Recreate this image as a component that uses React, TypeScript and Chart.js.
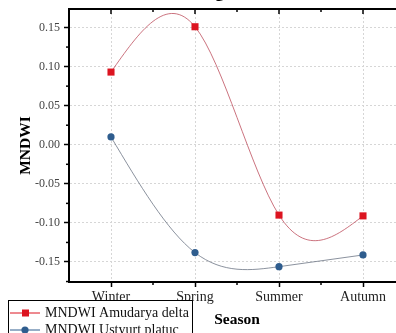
import React, { useEffect, useRef } from "react";
import { Chart, registerables } from "chart.js";

Chart.register(...registerables);

// Seasonal MNDWI means for the two study areas
const seasons = ["Winter", "Spring", "Summer", "Autumn"];
const amudaryaDelta = [0.093, 0.151, -0.09, -0.091];
const ustyurtPlateau = [0.01, -0.138, -0.156, -0.141];
const yTickValues = [-0.15, -0.1, -0.05, 0, 0.05, 0.1, 0.15];
const yMinorValues = [-0.175, -0.125, -0.075, -0.025, 0.025, 0.075, 0.125];
const seriesLabels = ["MNDWI Amudarya delta", "MNDWI Ustyurt platuc"];

const SERIF = "'Liberation Serif', 'Times New Roman', serif";
const RED = "#dc1420";
const BLUE = "#2f5d8e";

// Connects each dataset's points with a natural cubic spline (pixel space),
// drawn underneath the point markers.
const splinePlugin = {
  id: "naturalSpline",
  beforeDatasetsDraw(chart: any) {
    const { ctx, chartArea: a } = chart;
    chart.data.datasets.forEach((ds: any, di: number) => {
      const meta = chart.getDatasetMeta(di);
      if (meta.hidden) return;
      const P = meta.data.map((el: any) => ({ x: el.x, y: el.y }));
      const n = P.length;
      if (n < 2) return;
      const h: number[] = [];
      for (let i = 0; i < n - 1; i++) h.push(P[i + 1].x - P[i].x);
      // solve for second derivatives (natural end conditions)
      const M = new Array(n).fill(0);
      if (n > 2) {
        const m = n - 2;
        const sub: number[] = [], diag: number[] = [], sup: number[] = [], rhs: number[] = [];
        for (let i = 1; i <= m; i++) {
          sub.push(h[i - 1]);
          diag.push(2 * (h[i - 1] + h[i]));
          sup.push(h[i]);
          rhs.push(6 * ((P[i + 1].y - P[i].y) / h[i] - (P[i].y - P[i - 1].y) / h[i - 1]));
        }
        for (let i = 1; i < m; i++) {
          const w = sub[i] / diag[i - 1];
          diag[i] -= w * sup[i - 1];
          rhs[i] -= w * rhs[i - 1];
        }
        const sol = new Array(m).fill(0);
        sol[m - 1] = rhs[m - 1] / diag[m - 1];
        for (let i = m - 2; i >= 0; i--) sol[i] = (rhs[i] - sup[i] * sol[i + 1]) / diag[i];
        for (let i = 0; i < m; i++) M[i + 1] = sol[i];
      }
      ctx.save();
      ctx.beginPath();
      ctx.rect(a.left, a.top, a.right - a.left, a.bottom - a.top);
      ctx.clip();
      ctx.strokeStyle = ds.borderColor;
      ctx.lineWidth = ds.borderWidth;
      ctx.beginPath();
      ctx.moveTo(P[0].x, P[0].y);
      for (let i = 0; i < n - 1; i++) {
        const hi = h[i];
        const s = (P[i + 1].y - P[i].y) / hi;
        const d0 = s - (hi * (2 * M[i] + M[i + 1])) / 6;
        const d1 = s + (hi * (M[i] + 2 * M[i + 1])) / 6;
        ctx.bezierCurveTo(
          P[i].x + hi / 3, P[i].y + (d0 * hi) / 3,
          P[i + 1].x - hi / 3, P[i + 1].y - (d1 * hi) / 3,
          P[i + 1].x, P[i + 1].y
        );
      }
      ctx.stroke();
      ctx.restore();
    });
  },
};

// Axis frame (top edge, minor ticks) and the boxed legend in the lower-left
const framePlugin = {
  id: "frame",
  afterDraw(chart: any) {
    const { ctx, chartArea: a, scales } = chart;
    const xs = scales.x;
    const ys = scales.y;
    const seg = (x1: number, y1: number, x2: number, y2: number) => {
      ctx.beginPath();
      ctx.moveTo(x1, y1);
      ctx.lineTo(x2, y2);
      ctx.stroke();
    };
    ctx.save();
    ctx.strokeStyle = "#000";
    ctx.lineWidth = 2;
    seg(a.left - 1, a.top, a.right + 1, a.top);
    seg(a.right, a.top, a.right, a.bottom);
    ctx.lineWidth = 1.5;
    seasons.forEach((_, i) => {
      const px = xs.getPixelForValue(i);
      seg(px, a.top, px, a.top + 5);
    });
    for (let i = 0; i < seasons.length - 1; i++) {
      const px = xs.getPixelForValue(i + 0.5);
      seg(px, a.top, px, a.top + 3);
      seg(px, a.bottom, px, a.bottom + 3);
    }
    yMinorValues.forEach((v) => {
      const py = ys.getPixelForValue(v);
      if (py >= a.top && py <= a.bottom) seg(a.left, py, a.left - 3, py);
    });

    // legend box
    const bx = 8;
    const by = 320;
    ctx.fillStyle = "#fff";
    ctx.fillRect(bx, by, 184, 40);
    ctx.lineWidth = 1;
    ctx.strokeRect(bx + 0.5, by + 0.5, 184, 40);
    ctx.font = `14px ${SERIF}`;
    ctx.textBaseline = "middle";
    ctx.textAlign = "left";
    chart.data.datasets.forEach((ds: any, i: number) => {
      const ly = by + 13 + i * 17;
      const col = ds.pointBackgroundColor;
      ctx.strokeStyle = col;
      ctx.lineWidth = 1;
      seg(bx + 2, ly, bx + 32, ly);
      ctx.fillStyle = col;
      if (ds.pointStyle === "rect") {
        ctx.fillRect(bx + 14, ly - 3.5, 7, 7);
      } else {
        ctx.beginPath();
        ctx.arc(bx + 17, ly, 3.6, 0, Math.PI * 2);
        ctx.fill();
      }
      ctx.fillStyle = "#111";
      ctx.fillText(ds.label, bx + 37, ly);
    });
    ctx.restore();
  },
};

export default function App() {
  const canvasRef = useRef<HTMLCanvasElement>(null);

  useEffect(() => {
    const chart = new Chart(canvasRef.current as HTMLCanvasElement, {
      type: "line",
      data: {
        labels: seasons,
        datasets: [
          {
            label: seriesLabels[0],
            data: amudaryaDelta,
            showLine: false,
            borderColor: "rgba(190,80,95,0.8)",
            borderWidth: 1,
            pointStyle: "rect",
            pointRadius: 5,
            pointBackgroundColor: RED,
            pointBorderColor: RED,
            pointBorderWidth: 0,
          },
          {
            label: seriesLabels[1],
            data: ustyurtPlateau,
            showLine: false,
            borderColor: "rgba(100,110,125,0.75)",
            borderWidth: 1,
            pointStyle: "circle",
            pointRadius: 3.6,
            pointBackgroundColor: BLUE,
            pointBorderColor: BLUE,
            pointBorderWidth: 0,
          },
        ],
      },
      options: {
        responsive: false,
        animation: false,
        devicePixelRatio: 1,
        layout: { padding: { left: 17, right: 35, top: 0, bottom: 4 } },
        plugins: {
          legend: { display: false },
          tooltip: { enabled: false },
          title: {
            display: true,
            text: "Average MNDWI",
            fullSize: false,
            color: "#000",
            font: { family: SERIF, size: 18, weight: "bold" },
            padding: { top: 2, bottom: 5.4 },
          },
        },
        scales: {
          x: {
            type: "category",
            offset: true,
            afterFit: (s: any) => {
              s.height = 47;
            },
            grid: {
              offset: false,
              color: "#d6d6d6",
              lineWidth: 1,
              drawTicks: true,
              tickLength: 5,
              tickColor: "#000",
              tickWidth: 1.5,
              tickBorderDash: [],
            },
            border: { color: "#000", width: 2, dash: [2, 2] },
            ticks: {
              color: "#222",
              padding: 2,
              maxRotation: 0,
              font: { family: SERIF, size: 14 },
            },
            title: {
              display: true,
              text: "Season",
              color: "#000",
              padding: 0,
              font: { family: SERIF, size: 15.5, weight: "bold" },
            },
          },
          y: {
            type: "linear",
            min: -0.1756,
            max: 0.1737,
            afterFit: (s: any) => {
              s.width = 52;
            },
            afterBuildTicks: (s: any) => {
              s.ticks = yTickValues.map((v) => ({ value: v }));
            },
            grid: {
              color: "#d6d6d6",
              lineWidth: 1,
              drawTicks: true,
              tickLength: 5,
              tickColor: "#000",
              tickWidth: 1.5,
              tickBorderDash: [],
            },
            border: { color: "#000", width: 2, dash: [2, 2] },
            ticks: {
              color: "#444",
              padding: 4,
              font: { family: SERIF, size: 12 },
              callback: (v: any) => Number(v).toFixed(2),
            },
            title: {
              display: true,
              text: "MNDWI",
              color: "#000",
              padding: 0,
              font: { family: SERIF, size: 15.5, weight: "bold" },
            },
          },
        },
      },
      plugins: [splinePlugin, framePlugin],
    } as any);
    return () => chart.destroy();
  }, []);

  return (
    <div
      style={{
        position: "fixed",
        left: 0,
        top: 0,
        width: 396,
        height: 333,
        overflow: "hidden",
        background: "#fff",
      }}
    >
      <canvas
        ref={canvasRef}
        width={440}
        height={353}
        style={{ position: "absolute", left: 0, top: -20, width: 440, height: 353 }}
      />
    </div>
  );
}
